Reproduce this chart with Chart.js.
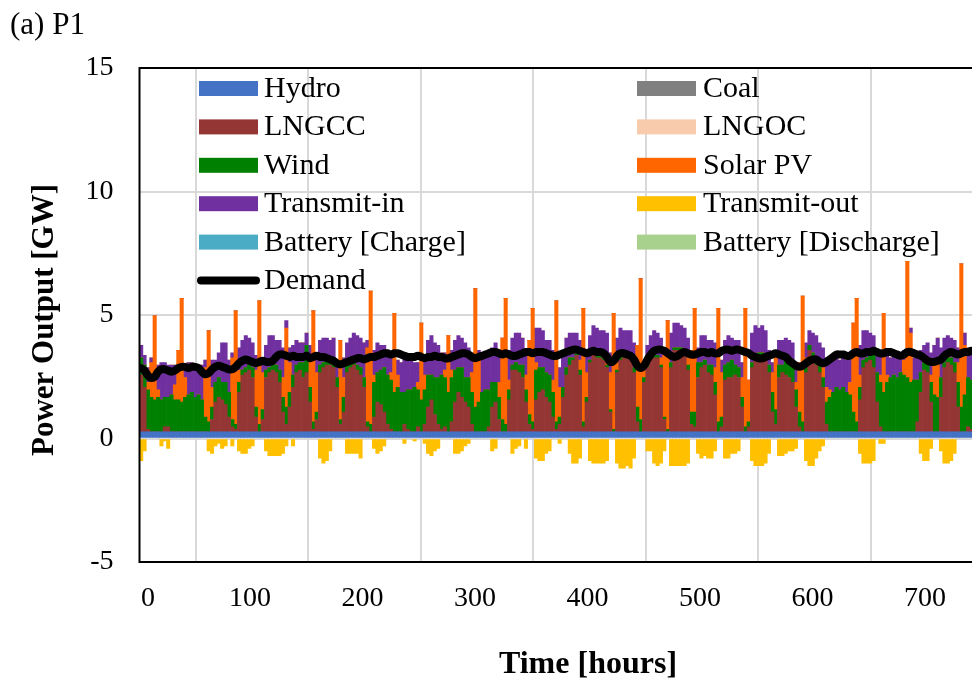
<!DOCTYPE html>
<html>
<head>
<meta charset="utf-8">
<title>P1 power output</title>
<script src="https://cdn.jsdelivr.net/npm/chart.js@4.4.1/dist/chart.umd.min.js"></script>
<style>
  html, body { margin: 0; padding: 0; background: #fff; }
  #wrap { width: 972px; height: 686px; }
</style>
</head>
<body>
<div id="wrap"><canvas id="powerChart" width="972" height="686"></canvas></div>
<script>
// 3-hour blocks, one row per day (8 blocks = 24 h), GW
const hydro = [
  0.27, 0.27, 0.27, 0.27, 0.27, 0.27, 0.27, 0.27,
  0.27, 0.27, 0.27, 0.27, 0.27, 0.27, 0.27, 0.27,
  0.27, 0.27, 0.27, 0.27, 0.27, 0.27, 0.27, 0.27,
  0.27, 0.27, 0.27, 0.27, 0.27, 0.27, 0.27, 0.27,
  0.27, 0.27, 0.27, 0.27, 0.27, 0.27, 0.27, 0.27,
  0.27, 0.27, 0.27, 0.27, 0.27, 0.27, 0.27, 0.27,
  0.27, 0.27, 0.27, 0.27, 0.27, 0.27, 0.27, 0.27,
  0.27, 0.27, 0.27, 0.27, 0.27, 0.27, 0.27, 0.27,
  0.27, 0.27, 0.27, 0.27, 0.27, 0.27, 0.27, 0.27,
  0.27, 0.27, 0.27, 0.27, 0.27, 0.27, 0.27, 0.27,
  0.27, 0.27, 0.27, 0.27, 0.27, 0.27, 0.27, 0.27,
  0.27, 0.27, 0.27, 0.27, 0.27, 0.27, 0.27, 0.27,
  0.27, 0.27, 0.27, 0.27, 0.27, 0.27, 0.27, 0.27,
  0.27, 0.27, 0.27, 0.27, 0.27, 0.27, 0.27, 0.27,
  0.27, 0.27, 0.27, 0.27, 0.27, 0.27, 0.27, 0.27,
  0.27, 0.27, 0.27, 0.27, 0.27, 0.27, 0.27, 0.27,
  0.27, 0.27, 0.27, 0.27, 0.27, 0.27, 0.27, 0.27,
  0.27, 0.27, 0.27, 0.27, 0.27, 0.27, 0.27, 0.27,
  0.27, 0.27, 0.27, 0.27, 0.27, 0.27, 0.27, 0.27,
  0.27, 0.27, 0.27, 0.27, 0.27, 0.27, 0.27, 0.27,
  0.27, 0.27, 0.27, 0.27, 0.27, 0.27, 0.27, 0.27,
  0.27, 0.27, 0.27, 0.27, 0.27, 0.27, 0.27, 0.27,
  0.27, 0.27, 0.27, 0.27, 0.27, 0.27, 0.27, 0.27,
  0.27, 0.27, 0.27, 0.27, 0.27, 0.27, 0.27, 0.27,
  0.27, 0.27, 0.27, 0.27, 0.27, 0.27, 0.27, 0.27,
  0.27, 0.27, 0.27, 0.27, 0.27, 0.27, 0.27, 0.27,
  0.27, 0.27, 0.27, 0.27, 0.27, 0.27, 0.27, 0.27,
  0.27, 0.27, 0.27, 0.27, 0.27, 0.27, 0.27, 0.27,
  0.27, 0.27, 0.27, 0.27, 0.27, 0.27, 0.27, 0.27,
  0.27, 0.27, 0.27, 0.27, 0.27, 0.27, 0.27, 0.27,
  0.27, 0.27, 0.27, 0.27, 0.27, 0.27, 0.27, 0.27
];
const coal = [];
const lngcc = [
  2.3, 1.8, 0.1, 0, 0, 0, 0, 0.2,
  0.2, 0, 0, 0, 0, 0, 0, 0,
  0, 0, 0, 0, 0, 0.5, 1.2, 1.4,
  1.3, 1.1, 0.6, 0.2, 0.1, 1.6, 2.3, 2.4,
  2.5, 2.2, 0.6, 0, 0.5, 2.2, 2.4, 2.5,
  2.4, 2.0, 0.8, 0.3, 1.0, 1.8, 2.4, 2.5,
  2.2, 2.4, 1.2, 0.1, 0.5, 2.4, 2.6, 2.7,
  2.7, 2.6, 1.8, 0.3, 0.8, 2.4, 2.6, 2.7,
  2.5, 2.3, 1.8, 0.2, 0, 0.6, 1.2, 1.1,
  0.8, 0.3, 0.1, 0, 0, 0, 0.3, 0.1,
  0, 0, 0.2, 0, 0.3, 1.0, 1.3, 0.7,
  0.3, 0.1, 0.2, 0, 0.4, 1.2, 1.6, 1.4,
  1.2, 1.0, 0.3, 0, 0, 0, 0, 0.2,
  1.0, 1.2, 0.5, 0, 0, 1.3, 2.5, 2.5,
  2.4, 2.2, 1.2, 0.3, 0.1, 1.3, 1.6, 1.7,
  1.4, 1.2, 0.6, 0.1, 0.3, 1.4, 2.3, 2.7,
  2.9, 3.1, 2.3, 0.2, 1.2, 2.8, 3.1, 3.0,
  3.0, 2.9, 2.6, 0.8, 0, 2.4, 2.9, 3.0,
  3.0, 2.9, 2.4, 0.4, 0, 2.0, 2.6, 2.9,
  3.0, 3.0, 2.6, 0.5, 0, 2.6, 3.3, 3.3,
  3.3, 3.2, 2.5, 0.3, 0.2, 2.2, 2.6, 2.7,
  2.4, 2.3, 1.5, 0, 0.2, 2.1, 2.2, 2.2,
  2.3, 2.2, 1.0, 0, 0.2, 2.6, 3.0, 3.1,
  3.1, 3.0, 2.4, 0.8, 0.3, 2.2, 2.4, 2.3,
  2.2, 2.0, 1.0, 0.2, 0, 2.4, 3.3, 3.0,
  2.7, 2.4, 1.8, 0.3, 0, 0, 0, 0,
  0, 0, 0, 0, 0, 1.3, 2.6, 2.8,
  2.9, 2.6, 1.2, 0.2, 0, 0, 0, 0,
  0, 0, 0, 0, 0, 0, 0.4, 1.6,
  2.5, 2.4, 1.2, 0, 0, 1.4, 2.6, 2.8,
  2.7, 2.4, 1.0, 0, 0, 0.2, 0.1, 0.2
];
const lngoc = [];
const wind = [
  0.7, 0.9, 1.6, 1.4, 1.3, 1.4, 1.3, 1.2,
  1.2, 1.5, 1.3, 1.3, 1.2, 1.4, 1.5, 1.6,
  1.4, 1.5, 1.3, 0.6, 0.4, 0.5, 0.8, 0.8,
  0.7, 0.9, 1.0, 0.3, 0.2, 0.4, 0.2, 0.2,
  0.2, 0.4, 0.4, 0.3, 0.4, 0.3, 0.2, 0.2,
  0.3, 0.5, 0.6, 0.7, 0.6, 0.5, 0.3, 0.3,
  0.6, 1.1, 0.6, 0.3, 0.3, 0.3, 0.2, 0.2,
  0.2, 0.2, 0.4, 0.2, 0.6, 0.3, 0.2, 0.2,
  0.2, 0.3, 0.4, 0.2, 0.3, 1.4, 1.2, 1.4,
  1.8, 2.0, 2.0, 1.6, 1.8, 1.6, 1.3, 1.6,
  1.7, 1.8, 1.5, 1.3, 1.4, 1.3, 1.0, 1.5,
  1.9, 2.2, 2.0, 1.6, 1.8, 1.3, 1.0, 1.2,
  1.0, 1.2, 1.3, 1.0, 1.2, 1.6, 1.7, 1.5,
  1.0, 0.8, 0.9, 0.5, 0.3, 0.4, 0.2, 0.3,
  0.3, 0.5, 0.5, 0.4, 0.3, 1.2, 1.0, 0.9,
  1.0, 1.1, 1.0, 0.3, 0.3, 0.4, 0.3, 0.3,
  0.1, 0.1, 0.2, 0.2, 0.2, 0.1, 0.1, 0.2,
  0.1, 0.1, 0.1, 0.1, 0.1, 0.1, 0.1, 0.1,
  0.1, 0.1, 0.2, 0.6, 0.5, 0.2, 0.1, 0.1,
  0.1, 0.1, 0.1, 0.1, 0.1, 0.2, 0.1, 0.1,
  0.1, 0.1, 0.2, 0.5, 0.6, 0.6, 0.2, 0.2,
  0.3, 0.4, 0.5, 0.4, 0.4, 0.6, 0.6, 0.7,
  0.4, 0.4, 0.4, 0.2, 0.2, 0.2, 0.1, 0.1,
  0.1, 0.1, 0.3, 0.8, 0.6, 0.5, 0.3, 0.6,
  0.7, 0.6, 0.7, 0.6, 0.4, 0.4, 0.2, 0.2,
  0.2, 0.3, 0.4, 0.9, 1.4, 1.6, 1.8, 1.7,
  1.8, 1.6, 1.5, 0.8, 0.4, 0.5, 0.3, 0.2,
  0.2, 0.5, 1.2, 1.8, 1.6, 2.0, 2.2, 2.3,
  2.2, 2.4, 2.3, 2.2, 2.0, 2.1, 1.7, 0.8,
  0.3, 0.4, 0.8, 1.5, 1.4, 0.8, 0.2, 0.2,
  0.3, 0.4, 1.0, 1.0, 1.5, 2.0, 2.0, 1.8
];
const solarPV = [
  0, 0, 0.3, 1.4, 3.4, 0.3, 0, 0,
  0, 0, 0.6, 2.0, 4.2, 0.8, 0, 0,
  0, 0, 0, 2.0, 3.7, 0.8, 0, 0,
  0, 0, 0, 2.5, 4.6, 0.5, 0, 0,
  0, 0, 1.5, 5.0, 1.5, 0, 0, 0,
  0, 0, 0.8, 3.2, 1.2, 0, 0, 0,
  0, 0, 1.2, 4.5, 1.6, 0, 0, 0,
  0, 0, 0, 3.2, 0.8, 0, 0, 0,
  0, 0, 0, 3.0, 5.4, 0.3, 0, 0,
  0, 0, 0.3, 3.2, 0.5, 0, 0, 0,
  0, 0, 0.3, 3.1, 0.6, 0, 0, 0,
  0, 0, 0.3, 2.3, 0.3, 0, 0, 0,
  0, 0, 0.8, 4.8, 1.8, 0, 0, 0,
  0, 0, 0.6, 3.3, 5.1, 0.4, 0, 0,
  0, 0, 0.6, 3.0, 4.6, 0.3, 0, 0,
  0, 0, 0.5, 4.9, 1.2, 0, 0, 0,
  0, 0, 0.4, 4.6, 1.0, 0, 0, 0,
  0, 0, 0.4, 1.5, 4.7, 0.3, 0, 0,
  0, 0, 0, 2.5, 5.7, 0.3, 0, 0,
  0, 0, 0.3, 2.5, 4.4, 0, 0, 0,
  0, 0, 0.3, 2.5, 4.2, 0, 0, 0,
  0, 0, 0.6, 4.6, 1.8, 0, 0, 0,
  0, 0, 0.8, 4.8, 1.7, 0, 0, 0,
  0, 0, 0, 0.8, 2.2, 0, 0, 0,
  0, 0, 0.3, 2.0, 5.1, 0.2, 0, 0,
  0, 0, 0.4, 0.6, 0.3, 0, 0, 0,
  0, 0, 0.5, 3.6, 5.0, 0.5, 0, 0,
  0, 0, 0, 0.3, 3.2, 0.3, 0, 0,
  0, 0, 0.6, 4.7, 2.0, 0, 0, 0,
  0, 0, 0.3, 1.2, 1.6, 0, 0, 0,
  0, 0, 0.8, 5.8, 2.0, 0, 0, 0
];
const transmitIn = [
  0.5, 0.4, 0.6, 0.2, 0, 1.0, 1.5, 1.4,
  1.3, 1.2, 0.8, 0, 0, 0.5, 1.3, 1.2,
  1.3, 1.2, 1.4, 0.3, 0, 1.1, 0.9, 1.0,
  1.6, 1.6, 1.3, 0.2, 0, 0.9, 1.2, 1.3,
  1.1, 1.0, 0.6, 0, 0.6, 1.0, 1.3, 1.2,
  1.0, 1.2, 1.2, 0.3, 0.6, 1.2, 1.0, 0.8,
  0.8, 0.5, 0.5, 0, 0.8, 1.0, 1.0, 0.9,
  0.8, 1.0, 0.7, 0, 0.8, 0.9, 1.0, 1.1,
  1.2, 1.2, 1.4, 0.3, 0, 1.0, 1.2, 1.0,
  0.9, 0.9, 0.6, 0, 0.6, 1.2, 1.5, 1.3,
  1.3, 1.0, 0.8, 0, 0.8, 1.4, 1.6, 1.4,
  1.3, 0.9, 0.7, 0, 0.8, 1.2, 1.3, 1.2,
  1.4, 1.2, 0.8, 0, 0.3, 1.5, 1.4, 1.6,
  1.4, 1.6, 1.2, 0, 0, 1.2, 1.1, 1.2,
  1.3, 1.1, 0.9, 0, 0, 1.4, 1.6, 1.5,
  1.3, 1.4, 1.2, 0, 0.8, 1.3, 1.2, 1.0,
  1.0, 0.8, 0.8, 0, 0.8, 1.0, 1.1, 1.0,
  1.0, 1.1, 0.9, 0.8, 0, 1.0, 1.2, 1.0,
  1.0, 1.1, 1.0, 0, 0, 0.3, 0.8, 0.9,
  1.0, 0.9, 0.8, 0.2, 0, 1.2, 1.0, 1.0,
  0.9, 0.9, 0.8, 0, 0, 0.6, 1.1, 1.0,
  1.0, 1.0, 1.0, 0, 0.5, 1.0, 1.1, 0.9,
  1.0, 1.1, 0.6, 0, 0, 1.2, 1.2, 1.0,
  1.1, 1.0, 0.6, 0.4, 0, 1.0, 1.0, 0.9,
  0.8, 1.0, 0.8, 0, 0, 0.6, 0.6, 0.8,
  1.0, 0.9, 0.8, 1.2, 1.3, 1.3, 1.2, 1.2,
  1.3, 1.3, 1.0, 0, 0, 1.2, 1.2, 1.1,
  0.9, 0.8, 0.9, 0.8, 0, 0.8, 0.8, 0.9,
  1.0, 0.7, 0.4, 0, 0.2, 0.9, 1.0, 0.9,
  0.7, 0.8, 0.9, 0.8, 0.8, 1.2, 1.0, 0.9,
  0.8, 0.9, 0.6, 0, 0.5, 1.2, 1.3, 1.3
];
const transmitOut = [
  -0.9, -0.5, 0, 0, 0, 0, -0.3, -0.1,
  -0.4, 0, 0, 0, 0, 0, 0, 0,
  0, 0, 0, 0, -0.5, -0.6, -0.3, -0.2,
  -0.4, -0.3, 0, -0.3, 0, -0.5, -0.6, -0.6,
  -0.4, -0.3, 0, 0, 0, -0.5, -0.7, -0.7,
  -0.7, -0.7, -0.6, -0.3, 0, -0.3, 0, 0,
  0, 0, 0, 0, 0, -0.8, -1.0, -0.9,
  -0.5, 0, 0, 0, 0, -0.6, -0.6, -0.6,
  -0.6, -0.8, 0, 0, 0, -0.4, -0.6, -0.5,
  -0.3, 0, 0, 0, 0, 0, -0.2, 0,
  0, -0.1, 0, 0, -0.2, -0.6, -0.7, -0.5,
  -0.4, 0, 0, 0, 0, -0.6, -0.6, -0.5,
  -0.3, -0.2, 0, 0, 0, 0, 0, 0,
  -0.5, -0.4, 0, 0, 0, 0, -0.6, -0.4,
  -0.3, 0, -0.4, 0, 0, -0.8, -0.9, -0.9,
  -0.6, -0.5, 0, 0, -0.2, 0, 0, -0.6,
  -1.0, -1.0, -0.8, 0, 0, -0.9, -1.0, -1.0,
  -1.0, -1.0, -0.9, 0, 0, -1.0, -1.2, -1.2,
  -1.1, -1.2, -0.8, 0, 0, 0, -0.5, -0.5,
  -1.0, -1.1, -1.0, -0.5, 0, -1.1, -1.1, -1.1,
  -1.1, -1.1, -1.0, 0, 0, -0.6, -0.8, -0.7,
  -0.8, -0.8, -0.5, 0, 0, -0.8, -0.8, -0.6,
  -0.6, -0.5, 0, 0, 0, -0.9, -1.1, -1.1,
  -1.1, -1.0, -0.6, 0, 0, -0.7, -0.7, -0.6,
  -0.5, -0.5, -0.4, 0, 0, -0.9, -1.1, -1.1,
  -0.8, -0.5, -0.3, 0, 0, 0, 0, 0,
  0, 0, 0, 0, 0, -0.6, -1.0, -1.0,
  -1.0, -0.9, 0, -0.2, -0.2, 0, 0, 0,
  0, 0, 0, 0, 0, 0, 0, -0.6,
  -0.9, -0.9, -0.4, 0, 0, -0.5, -1.0, -1.0,
  -0.9, -0.6, 0, 0, 0, 0, 0, 0
];
const batteryCharge = [];
const batteryDischarge = [];
const demand = [
  2.85, 2.75, 2.55, 2.45, 2.50, 2.70, 2.80, 2.80,
  2.75, 2.70, 2.75, 2.85, 2.90, 2.90, 2.85, 2.90,
  2.90, 2.85, 2.70, 2.60, 2.65, 2.80, 2.90, 2.95,
  2.90, 2.85, 2.80, 2.80, 2.90, 3.05, 3.15, 3.20,
  3.15, 3.10, 3.05, 3.10, 3.15, 3.10, 3.10, 3.15,
  3.30, 3.40, 3.40, 3.35, 3.30, 3.35, 3.30, 3.30,
  3.30, 3.35, 3.25, 3.30, 3.35, 3.30, 3.30, 3.25,
  3.20, 3.15, 3.05, 3.00, 3.05, 3.10, 3.15, 3.20,
  3.25, 3.25, 3.20, 3.25, 3.30, 3.30, 3.35, 3.40,
  3.45, 3.45, 3.40, 3.45, 3.45, 3.40, 3.35, 3.30,
  3.30, 3.30, 3.35, 3.30, 3.25, 3.30, 3.30, 3.35,
  3.30, 3.30, 3.25, 3.25, 3.30, 3.35, 3.40, 3.45,
  3.45, 3.40, 3.30, 3.25, 3.30, 3.35, 3.40, 3.45,
  3.50, 3.50, 3.45, 3.40, 3.45, 3.40, 3.35, 3.35,
  3.40, 3.45, 3.50, 3.50, 3.45, 3.50, 3.50, 3.50,
  3.45, 3.40, 3.35, 3.35, 3.40, 3.45, 3.50, 3.55,
  3.60, 3.60, 3.55, 3.50, 3.45, 3.50, 3.55, 3.50,
  3.50, 3.45, 3.30, 3.10, 3.15, 3.35, 3.45, 3.45,
  3.40, 3.35, 3.20, 2.95, 2.85, 2.95, 3.20, 3.40,
  3.55, 3.60, 3.60, 3.55, 3.45, 3.35, 3.30, 3.35,
  3.45, 3.50, 3.45, 3.40, 3.40, 3.45, 3.50, 3.50,
  3.45, 3.50, 3.45, 3.45, 3.55, 3.60, 3.60, 3.55,
  3.60, 3.60, 3.55, 3.50, 3.45, 3.35, 3.30, 3.25,
  3.25, 3.30, 3.35, 3.40, 3.45, 3.40, 3.35, 3.30,
  3.15, 3.05, 2.95, 2.90, 2.95, 3.05, 3.15, 3.20,
  3.20, 3.10, 3.05, 3.10, 3.20, 3.30, 3.40, 3.40,
  3.40, 3.35, 3.35, 3.45, 3.50, 3.45, 3.45, 3.50,
  3.50, 3.55, 3.50, 3.45, 3.45, 3.50, 3.50, 3.45,
  3.40, 3.35, 3.40, 3.50, 3.50, 3.45, 3.40, 3.35,
  3.25, 3.15, 3.10, 3.10, 3.15, 3.20, 3.35, 3.45,
  3.50, 3.45, 3.40, 3.45, 3.50, 3.50, 3.55, 3.50
];

// centre of each 3-hour block, hours
const hours = demand.map((d, i) => i * 3 + 1.5);
const xTicks = [0, 100, 200, 300, 400, 500, 600, 700];
const yTicks = [-5, 0, 5, 10, 15];

const serif = "'Liberation Serif', 'Times New Roman', serif";
const points = arr => arr.map((v, i) => ({ x: hours[i], y: v }));

function barSet(label, arr, color) {
  return {
    type: 'bar',
    label: label,
    data: points(arr),
    backgroundColor: color,
    borderWidth: 0,
    barPercentage: 1,
    categoryPercentage: 1,
    stack: 'gen',
    order: 1
  };
}

const datasets = [
  barSet('Hydro', hydro, '#4472C4'),
  barSet('Coal', coal, '#808080'),
  barSet('LNGCC', lngcc, '#943634'),
  barSet('LNGOC', lngoc, '#F8CBAD'),
  barSet('Wind', wind, '#008000'),
  barSet('Solar PV', solarPV, '#FF6600'),
  barSet('Transmit-in', transmitIn, '#7030A0'),
  barSet('Transmit-out', transmitOut, '#FFC000'),
  barSet('Battery [Charge]', batteryCharge, '#4BACC6'),
  barSet('Battery [Discharge]', batteryDischarge, '#A9D18E'),
  {
    type: 'line',
    label: 'Demand',
    data: points(demand),
    borderColor: '#000',
    borderWidth: 8,
    pointRadius: 0,
    tension: 0.4,
    borderCapStyle: 'round',
    borderJoinStyle: 'round',
    stack: 'demand',
    order: 0
  }
];

// frame, x tick labels, two-column legend inside the plot, axis titles and panel tag
const decorations = {
  id: 'decorations',
  afterDatasetsDraw(chart) {
    const c = chart.ctx;
    const a = chart.chartArea;
    const xs = chart.scales.x;
    c.save();
    c.strokeStyle = '#000';
    c.lineWidth = 2;
    c.beginPath();
    c.moveTo(a.right + 2, a.top);
    c.lineTo(a.left, a.top);
    c.lineTo(a.left, a.bottom);
    c.lineTo(a.right + 2, a.bottom);
    c.stroke();

    c.fillStyle = '#000';
    c.font = '28px ' + serif;
    c.textAlign = 'center';
    c.textBaseline = 'middle';
    xTicks.forEach(v => {
      const px = xs.getPixelForValue(v) + (v === 0 ? 8.5 : -2);
      c.fillText(String(v), px, 599);
    });

    c.font = '30px ' + serif;
    c.textBaseline = 'alphabetic';
    c.textAlign = 'left';
    chart.data.datasets.forEach((ds, i) => {
      const col = i % 2;
      const row = Math.floor(i / 2);
      const y = 88.5 + row * 38.4;
      const sx = col === 0 ? 199 : 637;
      const tx = col === 0 ? 264 : 703;
      if (ds.type === 'line') {
        c.strokeStyle = ds.borderColor;
        c.lineWidth = 8;
        c.lineCap = 'round';
        c.beginPath();
        c.moveTo(sx + 2, y);
        c.lineTo(sx + 57, y);
        c.stroke();
      } else {
        c.fillStyle = ds.backgroundColor;
        c.fillRect(sx, y - 7.5, 59, 15);
      }
      c.fillStyle = '#000';
      c.fillText(ds.label, tx, y + 8.5);
    });

    c.textAlign = 'center';
    c.textBaseline = 'middle';
    c.font = 'bold 32px ' + serif;
    c.fillText('Time [hours]', 588, 665);
    c.font = 'bold 31px ' + serif;
    c.translate(45, 320);
    c.rotate(-Math.PI / 2);
    c.fillText('Power Output [GW]', 0, 0);
    c.restore();

    c.save();
    c.font = '31px ' + serif;
    c.fillStyle = '#000';
    c.textAlign = 'left';
    c.textBaseline = 'alphabetic';
    c.fillText('(a) P1', 10, 34);
    c.restore();
  }
};

const tickFont = { family: serif, size: 28 };

new Chart(document.getElementById('powerChart'), {
  type: 'bar',
  data: { datasets: datasets },
  options: {
    responsive: false,
    animation: false,
    layout: { padding: { top: 68, right: 0, bottom: 0, left: 0 } },
    plugins: { legend: { display: false }, tooltip: { enabled: false } },
    scales: {
      x: {
        type: 'linear',
        min: 0,
        max: 740,
        stacked: true,
        offset: false,
        afterBuildTicks: s => { s.ticks = xTicks.map(v => ({ value: v })); },
        afterFit: s => { s.height = 124; },
        ticks: { display: false },
        grid: {
          color: ctx => (ctx.tick && ctx.tick.value === 0) ? 'rgba(0,0,0,0)' : '#D9D9D9',
          lineWidth: 2,
          drawTicks: false
        },
        border: { display: false }
      },
      y: {
        min: -5,
        max: 15,
        stacked: true,
        afterBuildTicks: s => { s.ticks = yTicks.map(v => ({ value: v })); },
        afterFit: s => { s.width = 139.5; },
        ticks: { font: tickFont, color: '#000', padding: 26 },
        grid: {
          color: ctx => (ctx.tick && (ctx.tick.value === -5 || ctx.tick.value === 15)) ? 'rgba(0,0,0,0)' : '#D9D9D9',
          lineWidth: 2,
          drawTicks: false
        },
        border: { display: false }
      }
    }
  },
  plugins: [decorations]
});
</script>
</body>
</html>
